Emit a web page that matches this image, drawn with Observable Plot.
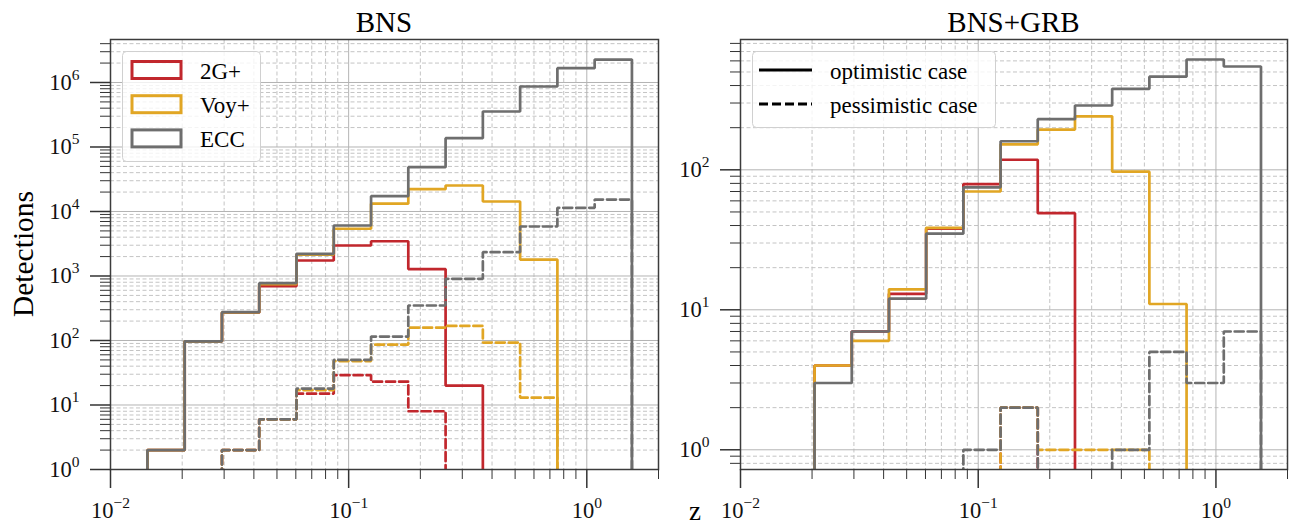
<!DOCTYPE html>
<html><head><meta charset="utf-8">
<script src="https://cdn.jsdelivr.net/npm/d3@7"></script>
<script src="https://cdn.jsdelivr.net/npm/@observablehq/plot@0.6"></script>
<style>
body{margin:0;background:#fff;}
#wrap{position:relative;width:1292px;height:529px;overflow:hidden;font-family:"Liberation Serif",serif;}
#wrap svg{position:absolute;top:0;}
#wrap svg text{font-family:"Liberation Serif",serif;}
</style></head><body><div id="wrap"></div>
<script>
// ---- data ----
const binEdges = [0.01429, 0.02049, 0.02938, 0.04212, 0.06039, 0.08659, 0.1242, 0.1780, 0.2553, 0.3660, 0.5248, 0.7524, 1.079, 1.547];
const detectors = ["2G+", "Voy+", "ECC"];
const detectorColors = ["#c1272d", "#e1a624", "#6e6e6e"];
const cases = ["optimistic case", "pessimistic case"];
const panelTitles = ["BNS", "BNS+GRB"];

// BNS, optimistic (solid)
const bns2GOpt  = [2, 97, 270, 695, 1740, 2970, 3460, 1280, 20, 0, 0, 0, 0];
const bnsVoyOpt = [2, 97, 272, 750, 2150, 5400, 13200, 22200, 25300, 14300, 1800, 0, 0];
const bnsECCOpt = [2, 97, 275, 775, 2210, 6070, 17300, 48600, 137000, 355000, 867000, 1670000, 2270000];
// BNS, pessimistic (dashed)
const bns2GPes  = [0, 0, 2, 6, 15, 29, 23, 8, 0, 0, 0, 0, 0];
const bnsVoyPes = [0, 0, 2, 6, 17, 48, 86, 158, 168, 93, 13, 0, 0];
const bnsECCPes = [0, 0, 2, 6, 18, 50, 115, 349, 904, 2340, 5850, 11400, 15300];
// BNS+GRB, optimistic (solid)
const grb2GOpt  = [0, 4, 7, 13, 38, 79, 118, 49, 0, 0, 0, 0, 0];
const grbVoyOpt = [0, 4, 6, 14, 38.5, 70, 152, 194, 241, 97, 11, 0, 0];
const grbECCOpt = [0, 3, 7, 12, 35, 75, 160, 230, 288, 379, 463, 614, 547];
// BNS+GRB, pessimistic (dashed)
const grb2GPes  = [0, 0, 0, 0, 0, 0, 2, 0, 0, 0, 0, 0, 0];
const grbVoyPes = [0, 0, 0, 0, 0, 0, 2, 1, 1, 1, 0, 0, 0];
const grbECCPes = [0, 0, 0, 0, 0, 1, 2, 0, 0, 1, 5, 3, 7];

// ticks
const xMajorTicks = [0.01, 0.1, 1];
const bnsYMajorTicks = [1, 10, 100, 1e3, 1e4, 1e5, 1e6];
const grbYMajorTicks = [1, 10, 100];

// ---- helpers ----
const FONT = "'Liberation Serif', serif";
function minorTicks(majors, lo, hi) {
  const out = [];
  const start = majors[0] / 10;
  for (let d = start; d <= hi * 10; d *= 10) {
    for (let m = 2; m <= 9; m++) {
      const v = +(d * m).toPrecision(6);
      if (v >= lo * 0.9999 && v <= hi * 1.0001) out.push(v);
    }
  }
  return out;
}
function fmtPow(v) { const e = Math.round(Math.log10(v)); return "10^" + String(e).replace("-", "−"); }

function outline(values, floor) {
  const pts = [{x: binEdges[0], y: floor}];
  values.forEach((v, i) => {
    const y = v > 0 ? v : floor;
    pts.push({x: binEdges[i], y});
    pts.push({x: binEdges[i + 1], y});
  });
  pts.push({x: binEdges[binEdges.length - 1], y: floor});
  return pts;
}

function panel({width, marginLeft, marginRight, yDomain, yMajors, opt, pes}) {
  const xDomain = [0.01, 2];
  const xMinor = minorTicks(xMajorTicks, xDomain[0], xDomain[1]);
  const yMinor = minorTicks(yMajors, yDomain[0], yDomain[1]);
  const floor = yDomain[0] / 1000;
  const lineMarks = [];
  opt.forEach((vals, i) => lineMarks.push(Plot.line(outline(vals, floor), {
    x: "x", y: "y", stroke: detectorColors[i], strokeWidth: 2.7, strokeLinejoin: "miter", clip: true
  })));
  pes.forEach((vals, i) => lineMarks.push(Plot.line(outline(vals, floor), {
    x: "x", y: "y", stroke: detectorColors[i], strokeWidth: 2.7, strokeDasharray: "9,4", strokeLinejoin: "miter", clip: true
  })));
  const axisStroke = "#333";
  const svg = Plot.plot({
    width, height: 529, marginLeft, marginRight, marginTop: 39, marginBottom: 60,
    style: {fontFamily: FONT, fontSize: "22.5px", background: "transparent", overflow: "visible"},
    x: {type: "log", domain: xDomain, label: null},
    y: {type: "log", domain: yDomain, label: null},
    marks: [
      Plot.gridX(xMinor, {stroke: "#c4c4c4", strokeOpacity: 1, strokeWidth: 1, strokeDasharray: "4,2.5"}),
      Plot.gridY(yMinor, {stroke: "#c4c4c4", strokeOpacity: 1, strokeWidth: 1, strokeDasharray: "4,2.5"}),
      Plot.gridX(xMajorTicks, {stroke: "#b4b4b4", strokeOpacity: 1, strokeWidth: 1}),
      Plot.gridY(yMajors, {stroke: "#b4b4b4", strokeOpacity: 1, strokeWidth: 1}),
      ...lineMarks,
      Plot.frame({stroke: "#3c3c3c", strokeWidth: 1.5}),
      Plot.axisX(xMinor, {tickSize: 10, fill: "none", stroke: axisStroke, strokeWidth: 1, label: null}),
      Plot.axisY(yMinor, {tickSize: 10, fill: "none", stroke: axisStroke, strokeWidth: 1, label: null}),
      Plot.axisX(xMajorTicks, {tickSize: 19, tickPadding: 14, stroke: axisStroke, strokeWidth: 1.5, fill: "#111", tickFormat: fmtPow, label: null, fontFamily: FONT, fontSize: 22.5}),
      Plot.axisY(yMajors, {tickSize: 20, tickPadding: 11, stroke: axisStroke, strokeWidth: 1.5, fill: "#111", tickFormat: fmtPow, label: null, fontFamily: FONT, fontSize: 22.5})
    ]
  });
  // render exponents as superscripts
  d3.select(svg).selectAll("text").each(function() {
    const m = /^10\^(.+)$/.exec(this.textContent);
    if (m) {
      this.textContent = "10";
      d3.select(this).attr("font-family", FONT).style("font-family", FONT);
      d3.select(this).append("tspan").attr("dy", "-10px").attr("font-size", "15.5px").text(m[1]);
    }
  });
  return svg;
}

const wrap = document.getElementById("wrap");

const left = panel({
  width: 660, marginLeft: 110, marginRight: 2,
  yDomain: [1, 4.64e6], yMajors: bnsYMajorTicks,
  opt: [bns2GOpt, bnsVoyOpt, bnsECCOpt], pes: [bns2GPes, bnsVoyPes, bnsECCPes]
});
left.style.left = "0px";
wrap.appendChild(left);

const right = panel({
  width: 632, marginLeft: 80, marginRight: 5,
  yDomain: [0.723, 853], yMajors: grbYMajorTicks,
  opt: [grb2GOpt, grbVoyOpt, grbECCOpt], pes: [grb2GPes, grbVoyPes, grbECCPes]
});
right.style.left = "660px";
wrap.appendChild(right);

// ---- overlay: titles, axis labels, legends ----
const ov = d3.select(wrap).append("svg")
  .attr("width", 1292).attr("height", 529)
  .style("left", "0px")
  .attr("font-family", FONT);

ov.append("text").attr("x", 384).attr("y", 31.5).attr("text-anchor", "middle").attr("font-size", "29px").text(panelTitles[0]);
ov.append("text").attr("x", 1013.5).attr("y", 31.5).attr("text-anchor", "middle").attr("font-size", "29px").text(panelTitles[1]);
ov.append("text").attr("transform", "translate(33,254) rotate(-90)").attr("text-anchor", "middle").attr("font-size", "29.5px").text("Detections");
ov.append("text").attr("x", 689).attr("y", 520).attr("font-size", "27px").text("z");

// left legend
const lg = ov.append("g");
lg.append("rect").attr("x", 122.5).attr("y", 51.5).attr("width", 138).attr("height", 110).attr("rx", 4)
  .attr("fill", "white").attr("fill-opacity", 0.8).attr("stroke", "#d0d0d0").attr("stroke-width", 1);
detectors.forEach((d, i) => {
  const cy = 70 + i * 34.2;
  lg.append("rect").attr("x", 132).attr("y", cy - 8.5).attr("width", 49).attr("height", 17)
    .attr("fill", "none").attr("stroke", detectorColors[i]).attr("stroke-width", 3);
  lg.append("text").attr("x", 200).attr("y", cy + 8.7).attr("font-size", "23px").text(d);
});

// right legend
const rg = ov.append("g");
rg.append("rect").attr("x", 752.5).attr("y", 51.5).attr("width", 243).attr("height", 76).attr("rx", 4)
  .attr("fill", "white").attr("fill-opacity", 0.8).attr("stroke", "#d0d0d0").attr("stroke-width", 1);
cases.forEach((c, i) => {
  const cy = 70 + i * 34;
  rg.append("line").attr("x1", 759).attr("x2", 812).attr("y1", cy).attr("y2", cy)
    .attr("stroke", "black").attr("stroke-width", 3).attr("stroke-dasharray", i ? "9,4" : null);
  rg.append("text").attr("x", 830).attr("y", cy + 8.5).attr("font-size", "23px").text(c);
});
</script></body></html>
